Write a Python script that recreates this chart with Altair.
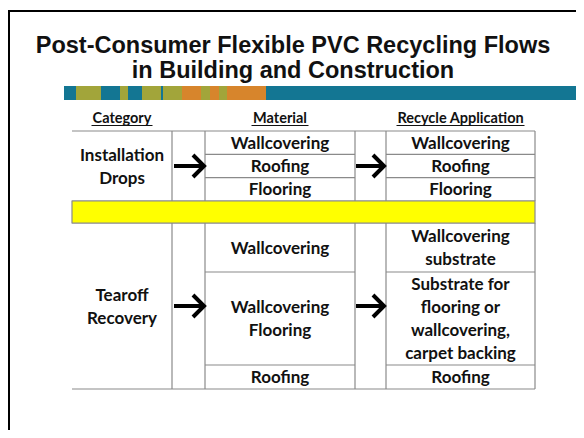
import altair as alt
import pandas as pd

# ---------------- data ----------------
title_lines = ["Post-Consumer Flexible PVC Recycling Flows", "in Building and Construction"]
headers = ["Category", "Material", "Recycle Application"]
categories = ["Installation\nDrops", "Tearoff\nRecovery"]
install_materials = ["Wallcovering", "Roofing", "Flooring"]
install_applications = ["Wallcovering", "Roofing", "Flooring"]
tearoff_materials = ["Wallcovering", "Wallcovering\nFlooring", "Roofing"]
tearoff_applications = ["Wallcovering\nsubstrate",
                        "Substrate for\nflooring or\nwallcovering,\ncarpet backing",
                        "Roofing"]
stripe_colors = ["teal", "olive", "teal", "olive", "teal", "olive", "teal",
                 "olive", "orange", "olive", "orange", "olive", "orange", "teal"]

# ---------------- layout (page pixel coordinates) ----------------
W, H = 568, 422
palette = {"teal": "#137693", "olive": "#A2A53A", "orange": "#D7852C"}
stripe_edges = [64, 76, 101, 120, 128, 142, 161, 163, 182, 201, 210, 219, 227, 266, 600]
stripe_y = (86, 100)
cols = [72, 172, 205, 355, 386, 535]
table_top = 131
install_bounds = [131, 154.3, 177.7, 201]
band = (201, 223)
tear_bounds = [223, 272, 365, 389]
line_color = "#8a8a8a"
LH = 23

xs = alt.Scale(domain=[8, 8 + W])
ys = alt.Scale(domain=[8, 8 + H], reverse=True)


def enc(x="x", y="y", x2=None, y2=None):
    e = dict(x=alt.X(f"{x}:Q", scale=xs, axis=None),
             y=alt.Y(f"{y}:Q", scale=ys, axis=None))
    if x2:
        e["x2"] = alt.X2(f"{x2}:Q")
    if y2:
        e["y2"] = alt.Y2(f"{y2}:Q")
    return e


# slide border
border_df = pd.DataFrame({"x": [9], "y": [11], "x2": [620], "y2": [470]})
border = alt.Chart(border_df).mark_rect(fillOpacity=0, stroke="black", strokeWidth=2).encode(
    **enc(x2="x2", y2="y2"))

# decorative stripe
stripe_df = pd.DataFrame({
    "x": stripe_edges[:-1], "x2": stripe_edges[1:],
    "y": [stripe_y[0]] * len(stripe_colors), "y2": [stripe_y[1]] * len(stripe_colors),
    "c": [palette[c] for c in stripe_colors]})
stripe = alt.Chart(stripe_df).mark_rect().encode(
    **enc(x2="x2", y2="y2"), color=alt.Color("c:N", scale=None))

# title
title_df = pd.DataFrame({"x": [293, 293], "y": [46, 71], "t": title_lines})
title = alt.Chart(title_df).mark_text(font="Liberation Sans", fontWeight="bold", fontSize=23.5,
                                      color="#111", baseline="middle", align="center").encode(
    **enc(), text="t:N")

# headers
header_x = [(cols[0] + cols[1]) / 2, (cols[2] + cols[3]) / 2, (cols[4] + cols[5]) / 2]
header_w = [61, 57, 128]
header_df = pd.DataFrame({"x": header_x, "y": [123] * 3, "t": headers})
header = alt.Chart(header_df).mark_text(font="Lato", fontWeight="bold", fontSize=14.5,
                                        color="#111", baseline="alphabetic", align="center").encode(
    **enc(), text="t:N")
ul_df = pd.DataFrame({"x": [c - w / 2 for c, w in zip(header_x, header_w)],
                      "x2": [c + w / 2 for c, w in zip(header_x, header_w)],
                      "y": [125.5] * 3})
underline = alt.Chart(ul_df).mark_rule(color="#111", strokeWidth=1).encode(
    **enc(x2="x2"))

# table lines
lines = []
for x in cols[1:]:
    lines.append((x, x, install_bounds[0], install_bounds[-1]))
    lines.append((x, x, tear_bounds[0], tear_bounds[-1]))
for y in [table_top, band[0], band[1], tear_bounds[-1]]:
    lines.append((cols[0], cols[-1], y, y))
for y in install_bounds[1:-1] + tear_bounds[1:-1]:
    lines.append((cols[2], cols[3], y, y))
    lines.append((cols[4], cols[5], y, y))
lines_df = pd.DataFrame(lines, columns=["x", "x2", "y", "y2"])
rules = alt.Chart(lines_df).mark_rule(color=line_color, strokeWidth=1.2).encode(
    **enc(x2="x2", y2="y2"))

band_df = pd.DataFrame({"x": [cols[0]], "x2": [cols[-1]], "y": [band[0]], "y2": [band[1]]})
yellow = alt.Chart(band_df).mark_rect(fill="#FFFF00", stroke=line_color, strokeWidth=1.2).encode(
    **enc(x2="x2", y2="y2"))

# cell texts (multi-line blocks centred on their cell)
cells = []
mid = lambda b: [(b[i] + b[i + 1]) / 2 for i in range(len(b) - 1)]
cat_x, mat_x, app_x = header_x
sec_c = [(install_bounds[0] + install_bounds[-1]) / 2, (tear_bounds[0] + tear_bounds[-1]) / 2]


def add(x, yc, t):
    n = t.count("\n") + 1
    cells.append((x, yc - (n - 1) * LH / 2 + 1, t))


for c, y in zip(categories, sec_c):
    add(cat_x, y, c)
for t, y in zip(install_materials, mid(install_bounds)):
    add(mat_x, y, t)
for t, y in zip(install_applications, mid(install_bounds)):
    add(app_x, y, t)
for t, y in zip(tearoff_materials, mid(tear_bounds)):
    add(mat_x, y, t)
for t, y in zip(tearoff_applications, mid(tear_bounds)):
    add(app_x, y, t)
cells_df = pd.DataFrame(cells, columns=["x", "y", "t"])
cell_text = alt.Chart(cells_df).mark_text(font="Lato", fontWeight="bold", fontSize=17,
                                          color="#111", baseline="middle", align="center",
                                          lineBreak="\n", lineHeight=LH).encode(
    **enc(), text="t:N")

# arrows
arrows = []
for (sx, ax) in [(174, 204), (356, 384)]:
    for cy in sec_c:
        k = f"{sx}-{cy}"
        arrows += [(sx, cy, k + "s", 0), (ax - 2, cy, k + "s", 1),
                   (ax - 11, cy - 11, k + "h", 0), (ax, cy, k + "h", 1), (ax - 11, cy + 11, k + "h", 2)]
arrow_df = pd.DataFrame(arrows, columns=["x", "y", "g", "o"])
arrow = alt.Chart(arrow_df).mark_line(color="black", strokeWidth=4, strokeJoin="miter").encode(
    **enc(), detail="g:N", order="o:Q")

chart = alt.layer(border, stripe, title, header, underline, rules, yellow, cell_text, arrow).properties(
    width=W, height=H, padding=0, autosize="none", background="white"
).configure_view(strokeWidth=0)

chart.save("out.html", embed_options={"renderer": "svg", "actions": False})
